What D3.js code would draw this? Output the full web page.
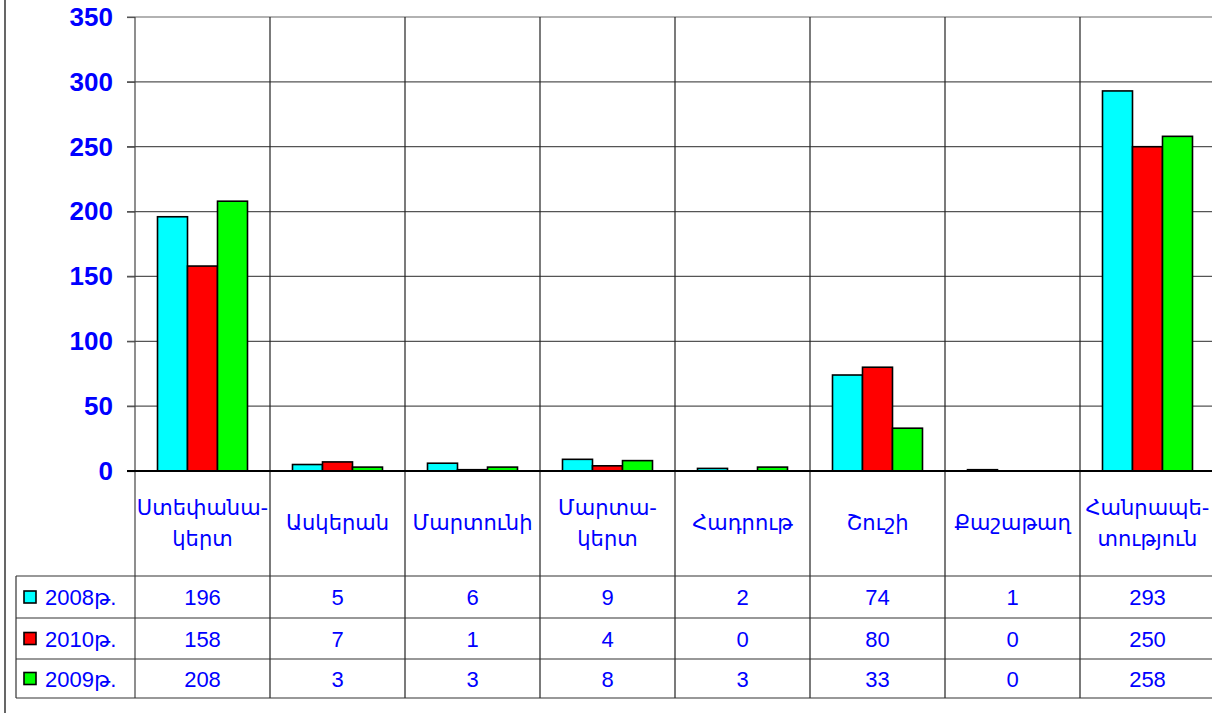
<!DOCTYPE html>
<html>
<head>
<meta charset="utf-8">
<script src="https://cdn.jsdelivr.net/npm/d3@7"></script>
<style>
  body { margin: 0; background: #fff; }
  svg { display: block; font-family: "Liberation Sans", Arial, "DejaVu Sans", sans-serif; }
</style>
</head>
<body>
<svg id="chart" width="1212" height="713"></svg>
<script>
// data
const categories = ["Ստեփանա-\nկերտ", "Ասկերան", "Մարտունի", "Մարտա-\nկերտ", "Հադրութ", "Շուշի", "Քաշաթաղ", "Հանրապե-\nտություն"]
const seriesNames = ["2008թ.", "2010թ.", "2009թ."]
const seriesColors = ["#00ffff", "#ff0000", "#00ff00"]
const values2008 = [196, 5, 6, 9, 2, 74, 1, 293]
const values2010 = [158, 7, 1, 4, 0, 80, 0, 250]
const values2009 = [208, 3, 3, 8, 3, 33, 0, 258]
const yTicks = [0, 50, 100, 150, 200, 250, 300, 350]

const series = [values2008, values2010, values2009]
const blue = "#0000ff"

const svg = d3.select("#chart")
const plotLeft = 135, plotTop = 17, zeroY = 471, colW = 135
const tableLeft = 16, tableRight = 1212
const rowLines = [576, 618, 659, 698]

const x0 = d3.scaleBand()
  .domain(d3.range(categories.length))
  .range([plotLeft, plotLeft + colW * categories.length])
const x1 = d3.scaleBand()
  .domain(d3.range(series.length))
  .range([22.5, colW - 22.5])
const y = d3.scaleLinear().domain([0, 350]).range([zeroY, plotTop])

// outer border
svg.append("line")
  .attr("x1", 5).attr("x2", 5).attr("y1", 0).attr("y2", 713)
  .attr("stroke", "#000").attr("stroke-width", 1.2)

// horizontal grid
svg.append("g").selectAll("line")
  .data(yTicks.filter(d => d > 0))
  .join("line")
  .attr("x1", plotLeft - 8).attr("x2", 1212)
  .attr("y1", d => y(d)).attr("y2", d => y(d))
  .attr("stroke", d => d === 350 ? "#999" : "#555")
  .attr("stroke-width", d => d === 350 ? 1.6 : 1.2)

// y axis
const yAxis = svg.append("g")
  .attr("transform", `translate(${plotLeft},0)`)
  .call(d3.axisLeft(y).tickValues(yTicks).tickSize(8).tickPadding(14))
yAxis.select(".domain").remove()
yAxis.selectAll(".tick line").attr("stroke", "#555").attr("stroke-width", 1.2)
yAxis.selectAll(".tick text")
  .attr("fill", blue)
  .attr("font-size", 26)
  .attr("font-weight", "bold")
  .attr("font-family", "Liberation Sans, Arial, sans-serif")

// vertical column lines (plot + table)
svg.append("g").selectAll("line")
  .data(d3.range(categories.length + 1))
  .join("line")
  .attr("x1", i => plotLeft + i * colW).attr("x2", i => plotLeft + i * colW)
  .attr("y1", plotTop).attr("y2", rowLines[rowLines.length - 1])
  .attr("stroke", i => i === 0 ? "#444" : "#222")
  .attr("stroke-width", 1.2)

// bars
svg.append("g").selectAll("g")
  .data(categories.map((c, i) => i))
  .join("g")
  .attr("transform", i => `translate(${x0(i)},0)`)
  .selectAll("rect")
  .data(i => series.map((s, k) => ({ k, v: s[i] })))
  .join("rect")
  .attr("x", d => x1(d.k))
  .attr("width", x1.bandwidth())
  .attr("y", d => y(d.v))
  .attr("height", d => zeroY - y(d.v))
  .attr("fill", d => seriesColors[d.k])
  .attr("stroke", "#000")
  .attr("stroke-width", 1.6)

// zero axis
svg.append("line")
  .attr("x1", plotLeft - 8).attr("x2", 1212)
  .attr("y1", zeroY).attr("y2", zeroY)
  .attr("stroke", "#000").attr("stroke-width", 1.8)

// category labels
const catText = svg.append("g").selectAll("text")
  .data(categories)
  .join("text")
  .attr("text-anchor", "middle")
  .attr("fill", blue)
  .attr("font-size", 21)
  .attr("font-family", "DejaVu Sans, sans-serif")
  .attr("x", (d, i) => x0(i) + colW / 2)
catText.each(function(d) {
  const lines = d.split("\n")
  const t = d3.select(this)
  const start = lines.length === 1 ? 530 : 515
  lines.forEach((ln, j) => {
    t.append("tspan")
      .attr("x", t.attr("x"))
      .attr("y", start + j * 31)
      .text(ln)
  })
})

// table lines
svg.append("g").selectAll("line")
  .data(rowLines)
  .join("line")
  .attr("x1", tableLeft).attr("x2", tableRight)
  .attr("y1", d => d).attr("y2", d => d)
  .attr("stroke", "#333").attr("stroke-width", 1.2)
svg.append("line")
  .attr("x1", tableLeft).attr("x2", tableLeft)
  .attr("y1", rowLines[0]).attr("y2", rowLines[3])
  .attr("stroke", "#333").attr("stroke-width", 1.2)

// table rows
series.forEach((s, k) => {
  const cy = (rowLines[k] + rowLines[k + 1]) / 2
  svg.append("rect")
    .attr("x", 24).attr("y", cy - 6)
    .attr("width", 12).attr("height", 12)
    .attr("fill", seriesColors[k])
    .attr("stroke", "#000").attr("stroke-width", 1.6)
  svg.append("text")
    .attr("x", 45).attr("y", cy + 8)
    .attr("fill", blue).attr("font-size", 22)
    .text(seriesNames[k])
  svg.append("g").selectAll("text")
    .data(s)
    .join("text")
    .attr("x", (d, i) => x0(i) + colW / 2)
    .attr("y", cy + 8)
    .attr("text-anchor", "middle")
    .attr("fill", blue)
    .attr("font-size", 22)
    .text(d => d)
})
</script>
</body>
</html>
